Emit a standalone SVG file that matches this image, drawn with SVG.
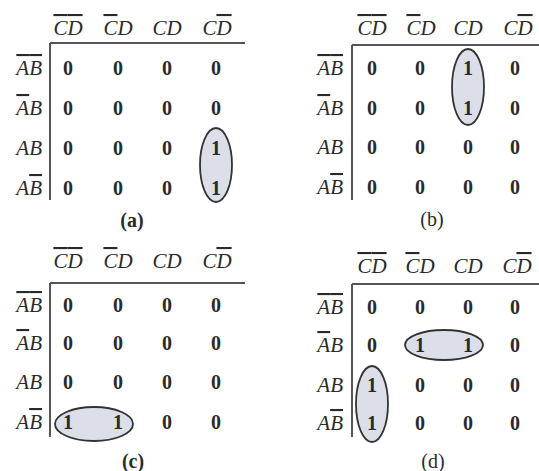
<svg xmlns="http://www.w3.org/2000/svg" width="539" height="471" viewBox="0 0 539 471">
<style>
.bg{fill:#ffffff}
.ax{stroke:#555;stroke-width:2;fill:none}
.lb{font-family:"Liberation Serif","DejaVu Serif",serif;font-style:italic;font-size:21px;fill:#2a2a2a}
.hd{text-anchor:middle}
.rw{text-anchor:end}
.v{font-family:"Liberation Serif","DejaVu Serif",serif;font-weight:bold;font-size:20px;fill:#2a2a2a;text-anchor:middle}
.cap{font-family:"Liberation Serif","DejaVu Serif",serif;font-size:20px;fill:#2a2a2a;text-anchor:middle}
.ov{text-decoration:overline}
.loop{fill:#dcdfe8;stroke:#333;stroke-width:1.8}
</style>
<rect class="bg" x="0" y="0" width="539" height="471"/>

<!-- Panel (a) -->
<g id="panel-a">
  <line class="ax" x1="50" y1="43" x2="245" y2="43"/>
  <line class="ax" x1="50" y1="43" x2="50" y2="200"/>
  <g class="lb hd">
    <text x="68" y="35"><tspan class="ov">C</tspan><tspan class="ov">D</tspan></text>
    <text x="118" y="35"><tspan class="ov">C</tspan>D</text>
    <text x="167" y="35">CD</text>
    <text x="217" y="35">C<tspan class="ov">D</tspan></text>
  </g>
  <g class="lb rw">
    <text x="42" y="75"><tspan class="ov">A</tspan><tspan class="ov">B</tspan></text>
    <text x="42" y="115"><tspan class="ov">A</tspan>B</text>
    <text x="42" y="155">AB</text>
    <text x="42" y="195">A<tspan class="ov">B</tspan></text>
  </g>
  <g id="loop-a"><ellipse class="loop" cx="216" cy="165" rx="16" ry="37"/></g>
  <g class="v">
    <text x="68" y="75">0</text><text x="118" y="75">0</text><text x="167" y="75">0</text><text x="216" y="75">0</text>
    <text x="68" y="115">0</text><text x="118" y="115">0</text><text x="167" y="115">0</text><text x="216" y="115">0</text>
    <text x="68" y="155">0</text><text x="118" y="155">0</text><text x="167" y="155">0</text><text x="216" y="155">1</text>
    <text x="68" y="195">0</text><text x="118" y="195">0</text><text x="167" y="195">0</text><text x="216" y="195">1</text>
  </g>
  <text class="cap" x="132" y="227" font-weight="bold">(a)</text>
</g>

<!-- Panel (b) -->
<g id="panel-b">
  <line class="ax" x1="352" y1="45" x2="539" y2="45"/>
  <line class="ax" x1="352" y1="45" x2="352" y2="200"/>
  <g class="lb hd">
    <text x="372" y="35"><tspan class="ov">C</tspan><tspan class="ov">D</tspan></text>
    <text x="421" y="35"><tspan class="ov">C</tspan>D</text>
    <text x="468" y="35">CD</text>
    <text x="518" y="35">C<tspan class="ov">D</tspan></text>
  </g>
  <g class="lb rw">
    <text x="343" y="75"><tspan class="ov">A</tspan><tspan class="ov">B</tspan></text>
    <text x="343" y="115"><tspan class="ov">A</tspan>B</text>
    <text x="343" y="154">AB</text>
    <text x="343" y="194">A<tspan class="ov">B</tspan></text>
  </g>
  <g id="loop-b"><ellipse class="loop" cx="468" cy="87" rx="16" ry="38"/></g>
  <g class="v">
    <text x="372" y="75">0</text><text x="420" y="75">0</text><text x="468" y="75">1</text><text x="515" y="75">0</text>
    <text x="372" y="115">0</text><text x="420" y="115">0</text><text x="468" y="115">1</text><text x="515" y="115">0</text>
    <text x="372" y="154">0</text><text x="420" y="154">0</text><text x="468" y="154">0</text><text x="515" y="154">0</text>
    <text x="372" y="194">0</text><text x="420" y="194">0</text><text x="468" y="194">0</text><text x="515" y="194">0</text>
  </g>
  <text class="cap" x="432" y="226">(b)</text>
</g>

<!-- Panel (c) -->
<g id="panel-c">
  <line class="ax" x1="50" y1="283" x2="245" y2="283"/>
  <line class="ax" x1="50" y1="283" x2="50" y2="437"/>
  <g class="lb hd">
    <text x="68" y="268"><tspan class="ov">C</tspan><tspan class="ov">D</tspan></text>
    <text x="118" y="268"><tspan class="ov">C</tspan>D</text>
    <text x="167" y="268">CD</text>
    <text x="217" y="268">C<tspan class="ov">D</tspan></text>
  </g>
  <g class="lb rw">
    <text x="42" y="312"><tspan class="ov">A</tspan><tspan class="ov">B</tspan></text>
    <text x="42" y="350"><tspan class="ov">A</tspan>B</text>
    <text x="42" y="389">AB</text>
    <text x="42" y="429">A<tspan class="ov">B</tspan></text>
  </g>
  <g id="loop-c"><ellipse class="loop" cx="94" cy="424" rx="39" ry="17"/></g>
  <g class="v">
    <text x="68" y="312">0</text><text x="118" y="312">0</text><text x="167" y="312">0</text><text x="216" y="312">0</text>
    <text x="68" y="350">0</text><text x="118" y="350">0</text><text x="167" y="350">0</text><text x="216" y="350">0</text>
    <text x="68" y="389">0</text><text x="118" y="389">0</text><text x="167" y="389">0</text><text x="216" y="389">0</text>
    <text x="68" y="429">1</text><text x="118" y="429">1</text><text x="167" y="429">0</text><text x="216" y="429">0</text>
  </g>
  <text class="cap" x="133" y="468" font-weight="bold">(c)</text>
</g>

<!-- Panel (d) -->
<g id="panel-d">
  <line class="ax" x1="352" y1="284" x2="539" y2="284"/>
  <line class="ax" x1="352" y1="284" x2="352" y2="437"/>
  <g class="lb hd">
    <text x="372" y="273"><tspan class="ov">C</tspan><tspan class="ov">D</tspan></text>
    <text x="420" y="273"><tspan class="ov">C</tspan>D</text>
    <text x="468" y="273">CD</text>
    <text x="517" y="273">C<tspan class="ov">D</tspan></text>
  </g>
  <g class="lb rw">
    <text x="343" y="314"><tspan class="ov">A</tspan><tspan class="ov">B</tspan></text>
    <text x="343" y="352"><tspan class="ov">A</tspan>B</text>
    <text x="343" y="392">AB</text>
    <text x="343" y="430">A<tspan class="ov">B</tspan></text>
  </g>
  <g id="loop-d1"><ellipse class="loop" cx="444" cy="345" rx="39" ry="15"/></g>
  <g id="loop-d2"><ellipse class="loop" cx="372" cy="404" rx="16" ry="38"/></g>
  <g class="v">
    <text x="372" y="314">0</text><text x="420" y="314">0</text><text x="468" y="314">0</text><text x="515" y="314">0</text>
    <text x="372" y="352">0</text><text x="420" y="352">1</text><text x="468" y="352">1</text><text x="515" y="352">0</text>
    <text x="372" y="392">1</text><text x="420" y="392">0</text><text x="468" y="392">0</text><text x="515" y="392">0</text>
    <text x="372" y="430">1</text><text x="420" y="430">0</text><text x="468" y="430">0</text><text x="515" y="430">0</text>
  </g>
  <text class="cap" x="433" y="468">(d)</text>
</g>
</svg>
